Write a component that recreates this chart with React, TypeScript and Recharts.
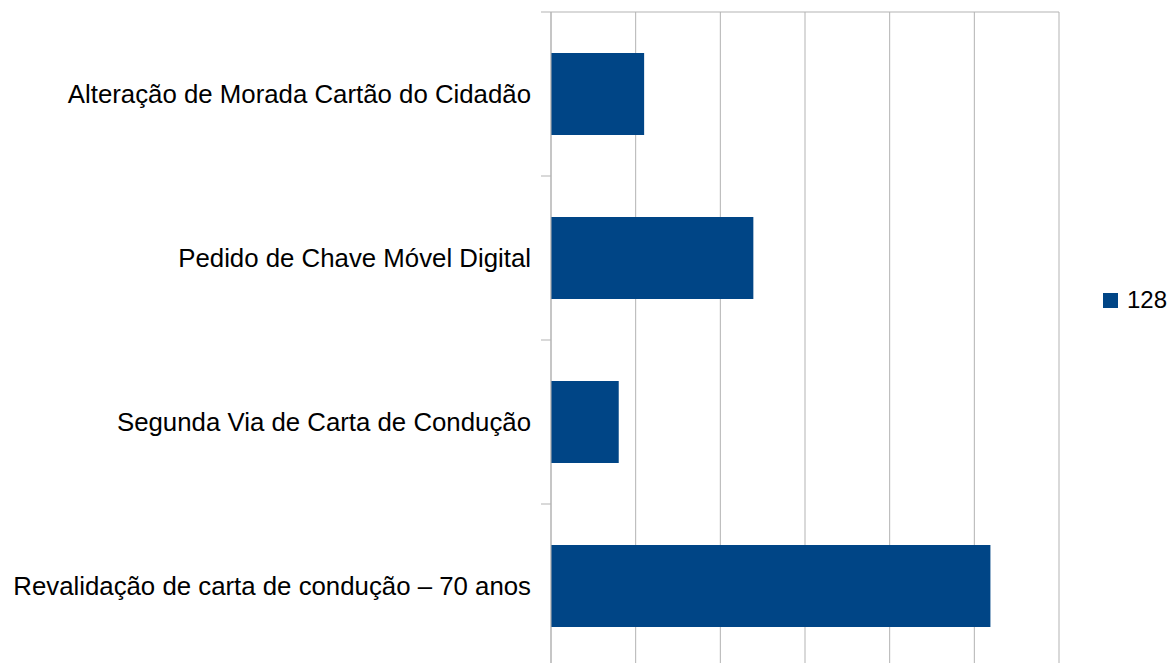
import { Bar, BarChart, CartesianGrid, Legend, XAxis, YAxis } from "recharts";

const categories = [
  "Alteração de Morada Cartão do Cidadão",
  "Pedido de Chave Móvel Digital",
  "Segunda Via de Carta de Condução",
  "Revalidação de carta de condução – 70 anos"
];
const values = [1.1, 2.39, 0.8, 5.19];
const seriesName = "128";
const xTicks = [0, 1, 2, 3, 4, 5, 6];

const data = categories.map((name, i) => ({ name, value: values[i] }));

const FONT = "'Liberation Sans', Arial, sans-serif";
const GRID = "#b3b3b3";
const BLUE = "#004586";

function CategoryTick(props: any) {
  const { x, y, payload } = props;
  const half = payload?.offset ?? 0;
  return (
    <g>
      <line x1={x + 10} x2={x + 20} y1={y - half} y2={y - half} stroke={GRID} />
      <text
        x={x}
        y={y}
        textAnchor="end"
        dominantBaseline="central"
        fontSize={25.8}
        fontFamily={FONT}
        fill="#000000"
      >
        {payload.value}
      </text>
    </g>
  );
}

function LegendBox() {
  return (
    <div style={{ width: 69, display: "flex", alignItems: "center", fontFamily: FONT, fontSize: 24 }}>
      <span style={{ width: 15, height: 15, background: BLUE, display: "inline-block", marginRight: 9 }} />
      <span style={{ color: "#000" }}>{seriesName}</span>
    </div>
  );
}

export default function App() {
  return (
    <div style={{ position: "absolute", left: 0, top: 0, background: "#fff" }}>
      <BarChart
        width={1172}
        height={680}
        data={data}
        layout="vertical"
        barCategoryGap="25%"
        margin={{ top: 12, right: 44, bottom: 12, left: 0 }}
      >
        <CartesianGrid
          stroke={GRID}
          horizontalCoordinatesGenerator={({ offset }: any) => [offset.top]}
        />
        <XAxis
          type="number"
          domain={[0, 6]}
          ticks={xTicks}
          tickFormatter={() => ""}
          tickLine={false}
          axisLine={false}
          height={0}
        />
        <YAxis
          type="category"
          dataKey="name"
          width={551}
          tickSize={10}
          tickMargin={10}
          tickLine={false}
          axisLine={{ stroke: GRID }}
          tick={<CategoryTick />}
          interval={0}
        />
        <Legend
          layout="vertical"
          align="right"
          verticalAlign="top"
          content={<LegendBox />}
          wrapperStyle={{ left: 1103, right: "auto", top: 286 }}
        />
        <Bar dataKey="value" name={seriesName} fill={BLUE} isAnimationActive={false} />
      </BarChart>
    </div>
  );
}
